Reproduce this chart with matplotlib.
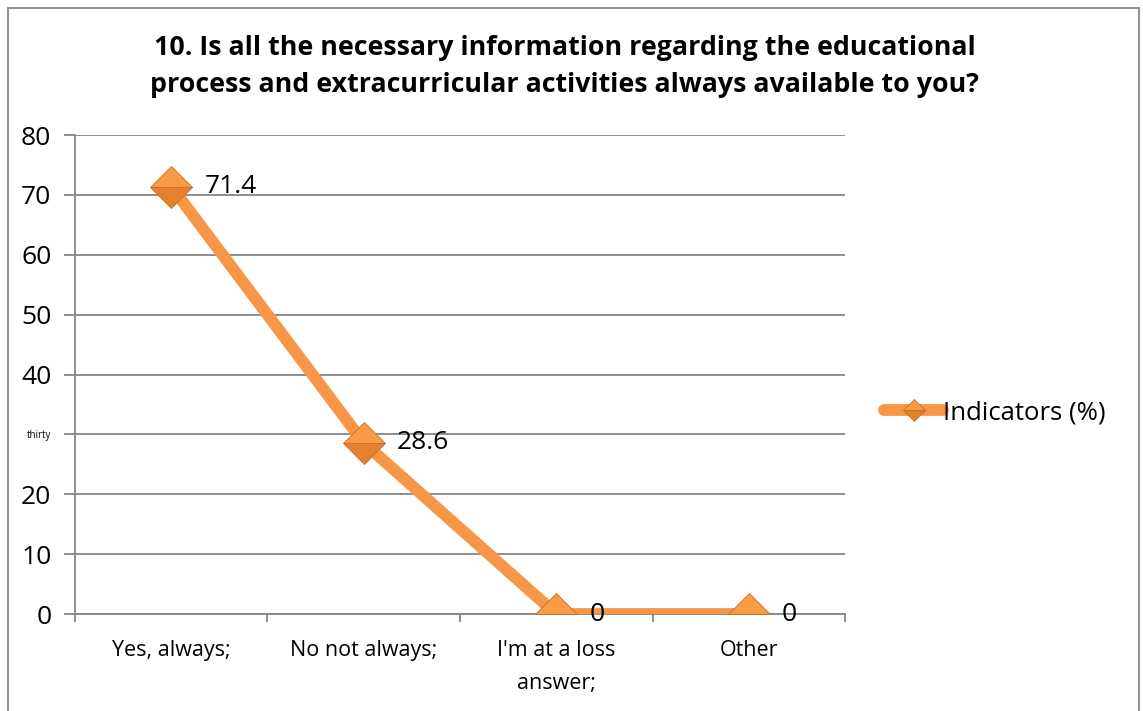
import matplotlib.pyplot as plt
from matplotlib.patches import Rectangle

categories = ['Yes, always;', 'No not always;', "I'm at a loss\nanswer;", 'Other']
values = [71.4, 28.6, 0, 0]
value_labels = ['71.4', '28.6', '0', '0']
y_ticks = [0, 10, 20, 30, 40, 50, 60, 70, 80]
y_tick_labels = ['0', '10', '20', 'thirty', '40', '50', '60', '70', '80']
series_name = 'Indicators (%)'
title = ('10. Is all the necessary information regarding the educational\n'
         'process and extracurricular activities always available to you?')

plt.rcParams['font.family'] = ['Open Sans', 'Noto Sans', 'DejaVu Sans']

orange = '#F79646'
light = '#F99A45'
dark = '#E5812E'
grid_col = '#868686'

fig = plt.figure(figsize=(11.43, 7.11), dpi=100)
ax = fig.add_axes([0.0656, 0.1364, 0.6737, 0.6737])

x = list(range(len(categories)))
ax.plot(x, values, color=orange, linewidth=8.5, solid_capstyle='round',
        marker='D', markersize=21, fillstyle='top', markerfacecolor=light,
        markerfacecoloralt=dark, markeredgecolor='#C86F26', markeredgewidth=0.6,
        label=series_name, zorder=3)

for xi, v, lab in zip(x, values, value_labels):
    ax.annotate(lab, (xi, v), xytext=(24, 0), textcoords='offset points',
                va='center', ha='left', fontsize=19, zorder=4)

ax.set_xlim(-0.5, len(categories) - 0.5)
ax.set_ylim(0, 80)
ax.set_yticks(y_ticks)
ax.set_yticklabels(y_tick_labels, fontsize=19)
for t in ax.get_yticklabels():
    if t.get_text() == 'thirty':
        t.set_fontsize(7)
ax.yaxis.grid(True, color=grid_col, linewidth=1.3)
ax.set_axisbelow(True)

ax.set_xticks([i - 0.5 for i in range(len(categories) + 1)])
ax.set_xticklabels([])
ax.set_xticks(x, minor=True)
ax.set_xticklabels(categories, minor=True, fontsize=15.5, linespacing=1.75)
ax.tick_params(axis='x', which='minor', length=0, pad=19)
ax.tick_params(axis='x', which='major', length=6, color=grid_col, width=1.3)
ax.tick_params(axis='y', length=8, color=grid_col, width=1.3, pad=9)

for side in ['top', 'right']:
    ax.spines[side].set_visible(False)
for side in ['left', 'bottom']:
    ax.spines[side].set_color(grid_col)
    ax.spines[side].set_linewidth(1.3)

leg = ax.legend(loc='center left', bbox_to_anchor=(1.021, 0.42), frameon=False,
                fontsize=18.5, handlelength=2.3, handletextpad=0.0, markerscale=0.55)

fig.text(0.494, 0.9065, title, ha='center', va='center', fontsize=19.3,
         fontweight='bold', linespacing=1.52)

fig.patches.append(Rectangle((8 / 1143, -0.05), 1131 / 1143, 1.05 - 8 / 711,
                             transform=fig.transFigure, fill=False,
                             edgecolor=grid_col, linewidth=1.3))

plt.savefig('out.png', dpi=100)
